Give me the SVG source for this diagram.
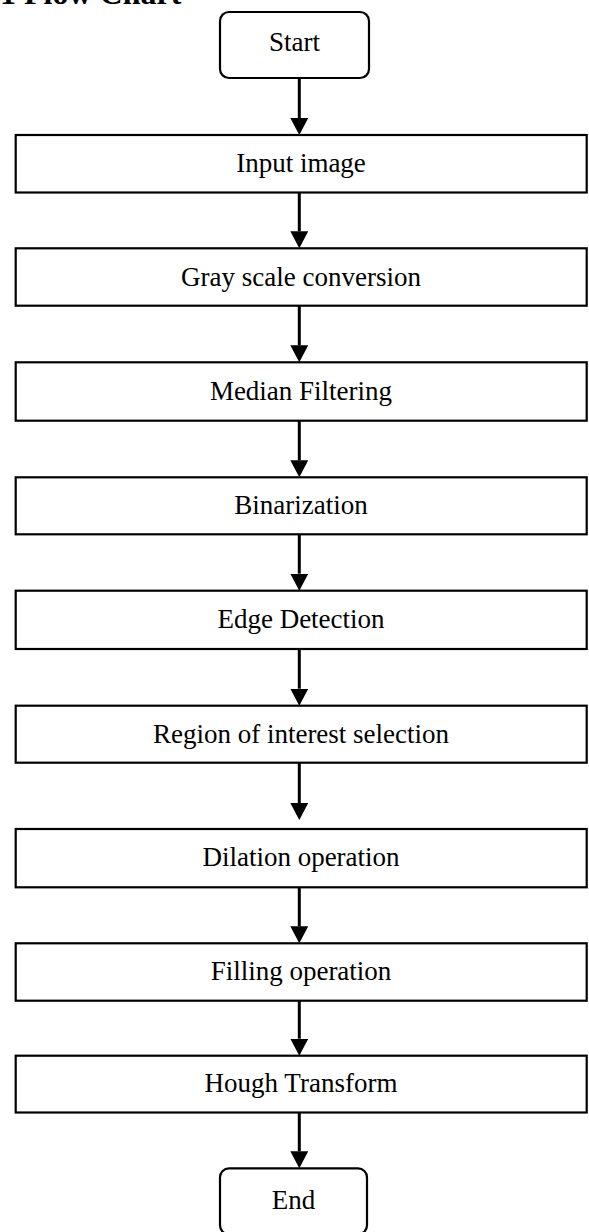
<svg xmlns="http://www.w3.org/2000/svg" width="589" height="1232" viewBox="0 0 589 1232">
<style>
.box{fill:#fff;stroke:#000;stroke-width:2.2}
.lbl{font-family:"Liberation Serif","Times New Roman",serif;font-size:27px;fill:#000;text-anchor:middle}
.title{font-family:"Liberation Serif","Times New Roman",serif;font-size:32px;font-weight:bold;fill:#000}
.conn{stroke:#000;stroke-width:3;fill:none}
</style>
<defs>
<marker id="ah" markerUnits="userSpaceOnUse" markerWidth="18" markerHeight="18" refX="0" refY="9" orient="auto">
<path d="M0,0 L17,9 L0,18 z" fill="#000"/>
</marker>
</defs>
<rect width="589" height="1232" fill="#fff"/>
<text class="title" x="0" y="4">1 Flow Chart</text>
<g id="connectors">
<line class="conn" x1="299.3" y1="78" x2="299.3" y2="118" marker-end="url(#ah)"/>
<line class="conn" x1="299.3" y1="192.5" x2="299.3" y2="231.3" marker-end="url(#ah)"/>
<line class="conn" x1="299.3" y1="305.7" x2="299.3" y2="345.3" marker-end="url(#ah)"/>
<line class="conn" x1="299.3" y1="420.7" x2="299.3" y2="460.3" marker-end="url(#ah)"/>
<line class="conn" x1="299.3" y1="534.3" x2="299.3" y2="573.7" marker-end="url(#ah)"/>
<line class="conn" x1="299.3" y1="649" x2="299.3" y2="688.7" marker-end="url(#ah)"/>
<line class="conn" x1="299.3" y1="762.7" x2="299.3" y2="803" marker-end="url(#ah)"/>
<line class="conn" x1="299.3" y1="887.3" x2="299.3" y2="926.3" marker-end="url(#ah)"/>
<line class="conn" x1="299.3" y1="1000.7" x2="299.3" y2="1038.7" marker-end="url(#ah)"/>
<line class="conn" x1="299.3" y1="1112.5" x2="299.3" y2="1151.3" marker-end="url(#ah)"/>
</g>
<g id="start"><rect class="box" x="220" y="12" width="149" height="66" rx="9"/><text class="lbl" x="294.5" y="51">Start</text></g>
<g id="input"><rect class="box" x="15.7" y="135" width="571" height="57.5"/><text class="lbl" x="301" y="172">Input image</text></g>
<g id="gray"><rect class="box" x="15.7" y="248.3" width="571" height="57.4"/><text class="lbl" x="301" y="286">Gray scale conversion</text></g>
<g id="median"><rect class="box" x="15.7" y="362.3" width="571" height="58.4"/><text class="lbl" x="301" y="400">Median Filtering</text></g>
<g id="binarization"><rect class="box" x="15.7" y="477.3" width="571" height="57"/><text class="lbl" x="301" y="514">Binarization</text></g>
<g id="edge"><rect class="box" x="15.7" y="590.7" width="571" height="58.3"/><text class="lbl" x="301" y="628">Edge Detection</text></g>
<g id="roi"><rect class="box" x="15.7" y="705.7" width="571" height="57"/><text class="lbl" x="301" y="743">Region of interest selection</text></g>
<g id="dilation"><rect class="box" x="15.7" y="829" width="571" height="58.3"/><text class="lbl" x="301" y="866">Dilation operation</text></g>
<g id="filling"><rect class="box" x="15.7" y="943.3" width="571" height="57.4"/><text class="lbl" x="301" y="980">Filling operation</text></g>
<g id="hough"><rect class="box" x="15.7" y="1055.7" width="571" height="56.8"/><text class="lbl" x="301" y="1092">Hough Transform</text></g>
<g id="end"><rect class="box" x="220" y="1168.3" width="147" height="66" rx="9"/><text class="lbl" x="293.5" y="1209">End</text></g>
</svg>
